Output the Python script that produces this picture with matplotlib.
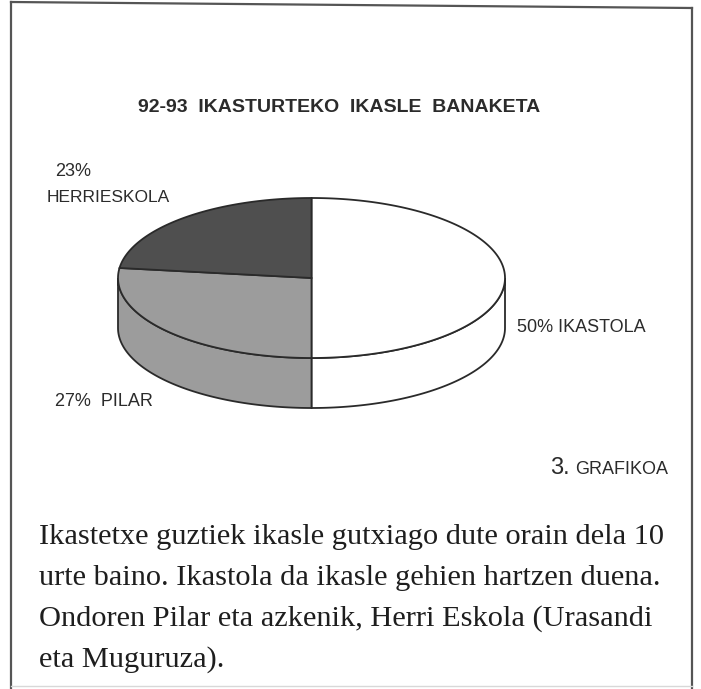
import numpy as np
import matplotlib
matplotlib.use("Agg")
import matplotlib.pyplot as plt
from matplotlib.patches import Polygon

# ---- data ----
categories = ["IKASTOLA", "PILAR", "HERRIESKOLA"]
values = [50, 27, 23]
colors = ["#ffffff", "#9c9c9c", "#4f4f4f"]
title = "92-93  IKASTURTEKO  IKASLE  BANAKETA"
paragraph = [
    "Ikastetxe guztiek ikasle gutxiago dute orain dela 10",
    "urte baino. Ikastola da ikasle gehien hartzen duena.",
    "Ondoren Pilar eta azkenik, Herri Eskola (Urasandi",
    "eta Muguruza).",
]

W, H = 701, 689
fig = plt.figure(figsize=(W / 100, H / 100), dpi=100)
ax = fig.add_axes([0, 0, 1, 1])
ax.set_xlim(0, W)
ax.set_ylim(H, 0)
ax.axis("off")

# ---- frame ----
edge = "#555555"
ax.plot([11, 692], [2, 8], color=edge, lw=1.6)
ax.plot([11, 11], [2, 689], color=edge, lw=1.6)
ax.plot([692, 692], [8, 689], color=edge, lw=1.6)
ax.plot([11, 692], [686, 686], color="#d8d8d8", lw=1.0)

# ---- 3D pie ----
cx, cy, a, b, depth = 311.5, 278.0, 193.5, 80.0, 50.0
line_c = "#2a2a2a"

total = float(sum(values))
start = 90.0
slices = []
for v, c in zip(values, colors):
    end = start - 360.0 * v / total  # clockwise
    slices.append((start, end, c))
    start = end

# side walls (front half: angles between -180 and 0)
for s, e, c in slices:
    hi = min(s, 0.0)
    lo = max(e, -180.0)
    if hi <= lo:
        continue
    th = np.linspace(hi, lo, 80)
    xs = cx + a * np.cos(np.radians(th))
    ys = cy - b * np.sin(np.radians(th))
    poly = np.column_stack([np.r_[xs, xs[::-1]], np.r_[ys, ys[::-1] + depth]])
    ax.add_patch(Polygon(poly, closed=True, facecolor=c, edgecolor=line_c, lw=1.3, zorder=2))

# top faces
for s, e, c in slices:
    th = np.linspace(s, e, 200)
    xs = cx + a * np.cos(np.radians(th))
    ys = cy - b * np.sin(np.radians(th))
    poly = np.column_stack([np.r_[cx, xs], np.r_[cy, ys]])
    ax.add_patch(Polygon(poly, closed=True, facecolor=c, edgecolor=line_c, lw=1.3, zorder=3))

# ---- texts ----
sans = "Liberation Sans"
tc = "#2b2b2b"
ax.text(339, 107, title, ha="center", va="center", fontsize=14, fontweight="bold",
        family=sans, color=tc)

pct = [f"{v}%" for v in values]
ax.text(517, 327, f"{pct[0]} {categories[0]}", ha="left", va="center", fontsize=13,
        family=sans, color=tc)
ax.text(55, 402, f"{pct[1]}  {categories[1]}", ha="left", va="center", fontsize=13,
        family=sans, color=tc)
ax.text(55, 172, pct[2], ha="left", va="center", fontsize=13, family=sans, color=tc)
ax.text(47, 197, categories[2], ha="left", va="center", fontsize=12.5, family=sans, color=tc)

ax.text(668, 474, "GRAFIKOA", ha="right", va="baseline", fontsize=13, family=sans, color=tc)
ax.text(570, 474, "3.", ha="right", va="baseline", fontsize=17, family=sans, color=tc)

for i, line in enumerate(paragraph):
    ax.text(39, 537 + i * 40.8, line, ha="left", va="center", fontsize=21.9,
            family="Liberation Serif", color="#1e1e1e")

fig.savefig("out.png", dpi=100, facecolor="white")
